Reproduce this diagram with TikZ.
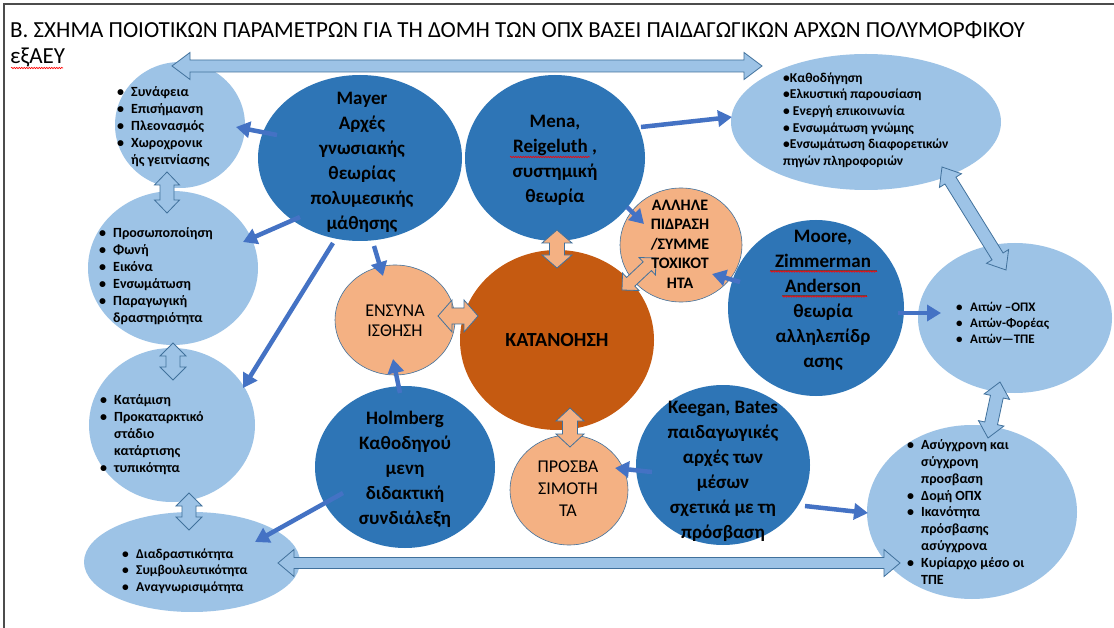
\documentclass[tikz,border=0pt]{standalone}
\usepackage{fontspec}
\setmainfont{Carlito}
\usetikzlibrary{calc,arrows.meta,shapes.geometric,decorations.pathmorphing}
\definecolor{lblue}{HTML}{9DC3E6}
\definecolor{dblue}{HTML}{2E75B6}
\definecolor{korange}{HTML}{C55A11}
\definecolor{lorange}{HTML}{F4B183}
\definecolor{ablue}{HTML}{4472C4}
\definecolor{oline}{HTML}{41719C}
\newcommand\myb{\makebox[14pt][l]{•}}
\newcommand\myi{\hspace*{14pt}}
\newcommand\hollowarrow[6]{%
 \path[#1] let \p1=($(#3)-(#2)$), \n1={atan2(\y1,\x1)}, \n2={veclen(\x1,\y1)} in
 (#2) -- ($(#2)+(\n1:#4)+({\n1+90}:#5)$) -- ($(#2)+(\n1:#4)+({\n1+90}:#6)$)
 -- ($(#2)+(\n1:{\n2-#4})+({\n1+90}:#6)$) -- ($(#2)+(\n1:{\n2-#4})+({\n1+90}:#5)$)
 -- (#3) -- ($(#2)+(\n1:{\n2-#4})+({\n1-90}:#5)$) -- ($(#2)+(\n1:{\n2-#4})+({\n1-90}:#6)$)
 -- ($(#2)+(\n1:#4)+({\n1-90}:#6)$) -- ($(#2)+(\n1:#4)+({\n1-90}:#5)$) -- cycle;}
\begin{document}
\begin{tikzpicture}[x=1pt,y=-1pt,
 lb/.style={ellipse,fill=lblue,inner sep=0pt},
 db/.style={ellipse,fill=dblue,inner sep=0pt},
 lo/.style={ellipse,fill=lorange,draw=oline,line width=0.6pt,inner sep=0pt},
 ko/.style={ellipse,fill=korange,inner sep=0pt},
 bigt/.style={font=\bfseries\fontsize{19}{25}\selectfont,align=center,inner sep=0pt},
 lst/.style={align=left,inner sep=0pt,anchor=west,font=\bfseries\fontsize{14}{17}\selectfont},
 sarr/.style={draw=ablue,line width=4.5pt,-{Triangle[length=14pt,width=16pt]}},
 harr/.style={fill=lblue,draw=oline,line width=0.8pt},
 horr/.style={fill=lorange,draw=oline,line width=0.8pt},
 squig/.style={red,line width=0.6pt,decorate,decoration={snake,amplitude=0.7pt,segment length=2.5pt}}
]
\useasboundingbox (0,0) rectangle (1114,628);
\fill[white] (0,0) rectangle (1114,628);
\draw[line width=1.6pt,black!70] (4,700) -- (4,4) -- (1120,4);

% title
\node[anchor=base west,inner sep=0pt,font=\fontsize{23}{27}\selectfont] (title) at (10,38)
 {Β. ΣΧΗΜΑ ΠΟΙΟΤΙΚΩΝ ΠΑΡΑΜΕΤΡΩΝ ΓΙΑ ΤΗ ΔΟΜΗ ΤΩΝ ΟΠΧ ΒΑΣΕΙ ΠΑΙΔΑΓΩΓΙΚΩΝ ΑΡΧΩΝ ΠΟΛΥΜΟΡΦΙΚΟΥ};
\node[anchor=base west,inner sep=0pt,font=\fontsize{23}{27}\selectfont] (title2) at (10,64) {εξΑΕΥ};
\draw[squig] (11,68) -- (63,68);

% light blue ellipses
\node[lb,minimum width=130,minimum height=126] (e1) at (180,125) {};
\node[lb,minimum width=170,minimum height=154] (e2) at (173,268) {};
\node[lb,minimum width=166,minimum height=154] (e3) at (172,425) {};
\node[lb,minimum width=216,minimum height=100] (e4) at (192,562) {};
\node[lb,minimum width=270,minimum height=136] (tr) at (866,122) {};
\node[lb,minimum width=194,minimum height=150] (rm) at (1015,318) {};
\node[lb,minimum width=210,minimum height=174] (br) at (972,512) {};

% dark blue circles
\node[db,minimum width=204,minimum height=166] (mayer) at (360,158) {};
\node[db,minimum width=180,minimum height=166] (mena) at (555,158) {};
\node[db,minimum width=176,minimum height=176] (moore) at (816,308) {};
\node[db,minimum width=180,minimum height=162] (holm) at (405,467) {};
\node[db,minimum width=174,minimum height=160] (keeg) at (723,465) {};

% centre
\node[ko,minimum width=194,minimum height=180] (kat) at (557,340) {};

% light orange circles
\node[lo,minimum width=120,minimum height=110] (ens) at (395,320) {};
\node[lo,minimum width=122,minimum height=114] (all) at (681,245) {};
\node[lo,minimum width=118,minimum height=110] (pros) at (569,490) {};

% hollow double arrows
\coordinate (h1a) at (172,66);  \coordinate (h1b) at (762,66);
\coordinate (h2a) at (278,563); \coordinate (h2b) at (900,563);
\coordinate (v1a) at (167,172); \coordinate (v1b) at (167,213);
\coordinate (v2a) at (173,343); \coordinate (v2b) at (173,380);
\coordinate (v3a) at (189,493); \coordinate (v3b) at (189,530);
\coordinate (d1a) at (942,167); \coordinate (d1b) at (1006,270);
\coordinate (d2a) at (1000,382); \coordinate (d2b) at (988,438);
\hollowarrow{harr}{h1a}{h1b}{18pt}{13.5pt}{6pt}
\hollowarrow{harr}{h2a}{h2b}{16pt}{13.5pt}{5.5pt}
\hollowarrow{harr}{v1a}{v1b}{13pt}{12.5pt}{7pt}
\hollowarrow{harr}{v2a}{v2b}{13pt}{13pt}{7pt}
\hollowarrow{harr}{v3a}{v3b}{13pt}{13pt}{7pt}
\hollowarrow{harr}{d1a}{d1b}{16pt}{13pt}{6.5pt}
\hollowarrow{harr}{d2a}{d2b}{15pt}{13pt}{6.5pt}

\coordinate (o1a) at (557,230); \coordinate (o1b) at (557,268);
\coordinate (o2a) at (438,316); \coordinate (o2b) at (478,316);
\coordinate (o3a) at (570,408); \coordinate (o3b) at (570,447);
\coordinate (o4a) at (622,290); \coordinate (o4b) at (656,258);
\hollowarrow{horr}{o1a}{o1b}{13pt}{15pt}{7.5pt}
\hollowarrow{horr}{o2a}{o2b}{14pt}{16pt}{8pt}
\hollowarrow{horr}{o3a}{o3b}{13pt}{14pt}{7.5pt}
\hollowarrow{horr}{o4a}{o4b}{12pt}{12pt}{6pt}

% solid arrows
\coordinate (s1a) at (277,135); \coordinate (s1b) at (236,127);
\coordinate (s2a) at (300,217); \coordinate (s2b) at (243,242);
\coordinate (s3a) at (333,243); \coordinate (s3b) at (243,388);
\coordinate (s4a) at (374,246); \coordinate (s4b) at (383,276);
\coordinate (s5a) at (641,127); \coordinate (s5b) at (732,117);
\coordinate (s6a) at (627,207); \coordinate (s6b) at (644,224);
\coordinate (s7a) at (740,282); \coordinate (s7b) at (712,274);
\coordinate (s8a) at (898,313); \coordinate (s8b) at (941,313);
\coordinate (s9a) at (400,393); \coordinate (s9b) at (393,359);
\coordinate (s10a) at (343,493); \coordinate (s10b) at (255,542);
\coordinate (s11a) at (652,472); \coordinate (s11b) at (615,468);
\coordinate (s12a) at (805,506); \coordinate (s12b) at (868,513);
\foreach \i in {1,...,12} \draw[sarr] (s\i a) -- (s\i b);

% texts in circles
\node[bigt] (tmayer) at (362,162) {Mayer\\Αρχές\\γνωσιακής\\θεωρίας\\πολυμεσικής\\μάθησης};
\node[bigt] (tmena) at (555,160) {Mena,\\Reigeluth ,\\συστημική\\θεωρία};
\node[bigt] (tmoore) at (823,300) {Moore,\\Zimmerman\\Anderson\\θεωρία\\αλληλεπίδρ\\ασης};
\node[bigt] (tholm) at (405,469) {Holmberg\\Καθοδηγού\\μενη\\διδακτική\\συνδιάλεξη};
\node[bigt] (tkeeg) at (723,471) {Keegan, Bates\\παιδαγωγικές\\αρχές των\\μέσων\\σχετικά με τη\\πρόσβαση};
\draw[squig] (510,157) -- (590,157);
\draw[black!70,line width=0.6pt] (770,270) -- (877,270);
\draw[squig] (770,271.5) -- (877,271.5);
\draw[black!70,line width=0.6pt] (782,295) -- (867,295);
\draw[squig] (782,296.5) -- (867,296.5);

\node[inner sep=0pt,font=\bfseries\fontsize{20}{24}\selectfont] (tkat) at (557,340) {ΚΑΤΑΝΟΗΣΗ};
\node[inner sep=0pt,align=center,font=\fontsize{18}{20}\selectfont] (tens) at (395,321) {ΕΝΣΥΝΑ\\ΙΣΘΗΣΗ};
\node[inner sep=0pt,align=center,font=\bfseries\fontsize{16}{19.5}\selectfont] (tall) at (680,244) {ΑΛΛΗΛΕ\\ΠΙΔΡΑΣΗ\\/ΣΥΜΜΕ\\ΤΟΧΙΚΟΤ\\ΗΤΑ};
\node[inner sep=0pt,align=center,font=\fontsize{18}{22}\selectfont] (tpros) at (568,489) {ΠΡΟΣΒΑ\\ΣΙΜΟΤΗ\\ΤΑ};

% lists
\node[lst] (le1) at (117,127) {\myb Συνάφεια\\ \myb Επισήμανση\\ \myb Πλεονασμός\\ \myb Χωροχρονικ\\ \myi ής γειτνίασης};
\node[lst] (le2) at (99,276) {\myb Προσωποποίηση\\ \myb Φωνή\\ \myb Εικόνα\\ \myb Ενσωμάτωση\\ \myb Παραγωγική\\ \myi δραστηριότητα};
\node[lst] (le3) at (100,435) {\myb Κατάμιση\\ \myb Προκαταρκτικό\\ \myi στάδιο\\ \myi κατάρτισης\\ \myb τυπικότητα};
\node[lst,font=\bfseries\fontsize{13.5}{16.5}\selectfont] (le4) at (122,571) {\myb Διαδραστικότητα\\ \myb Συμβουλευτικότητα\\ \myb Αναγνωρισιμότητα};
\node[lst,font=\bfseries\fontsize{13.5}{16.6}\selectfont] (ltr) at (783,120) {•Καθοδήγηση\\ •Ελκυστική παρουσίαση\\ • Ενεργή επικοινωνία\\ • Ενσωμάτωση γνώμης\\ •Ενσωμάτωση διαφορετικών\\ πηγών πληροφοριών};
\node[lst,font=\bfseries\fontsize{13}{16}\selectfont] (lrm) at (956,323) {\myb Αιτών –ΟΠΧ\\ \myb Αιτών-Φορέας\\ \myb Αιτών—ΤΠΕ};
\node[lst,font=\bfseries\fontsize{14}{16.9}\selectfont] (lbr) at (907,512) {\myb Ασύγχρονη και\\ \myi σύγχρονη\\ \myi προσβαση\\ \myb Δομή ΟΠΧ\\ \myb Ικανότητα\\ \myi πρόσβασης\\ \myi ασύγχρονα\\ \myb Κυρίαρχο μέσο οι\\ \myi ΤΠΕ};
\end{tikzpicture}
\end{document}
